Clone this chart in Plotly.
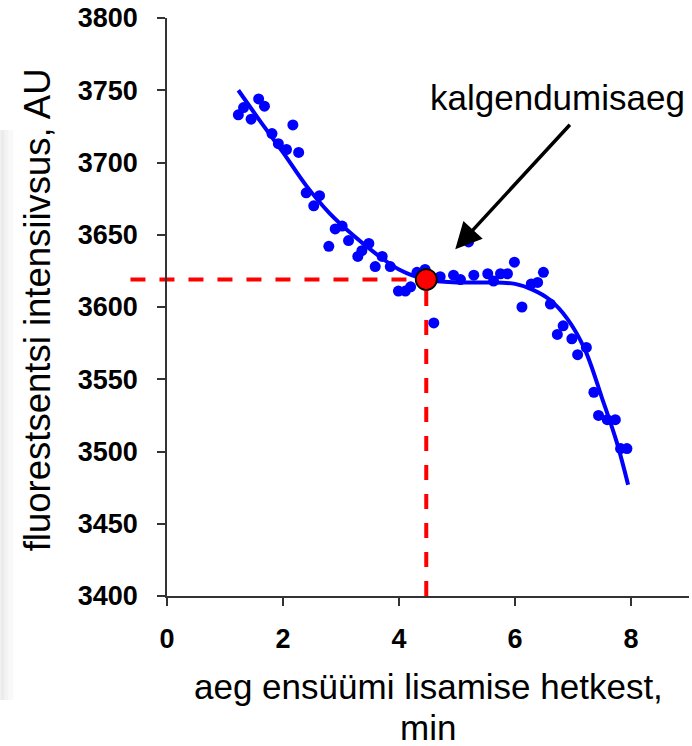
import plotly.graph_objects as go

# ---- data ----
time_min = [1.23, 1.32, 1.45, 1.58, 1.68, 1.81, 1.92, 2.06, 2.17, 2.27,
            2.40, 2.53, 2.63, 2.79, 2.90, 3.02, 3.13, 3.29, 3.36, 3.48,
            3.59, 3.71, 3.85, 3.99, 4.11, 4.20, 4.31, 4.45, 4.60, 4.71,
            4.94, 5.06, 5.20, 5.29, 5.53, 5.63, 5.75, 5.87, 5.99, 6.12,
            6.28, 6.39, 6.49, 6.61, 6.73, 6.83, 6.98, 7.08, 7.23, 7.36,
            7.44, 7.59, 7.73, 7.82, 7.93]
intensity = [3733, 3738, 3730, 3744, 3739, 3720, 3713, 3709, 3726, 3707,
             3679, 3670, 3677, 3642, 3654, 3656, 3646, 3635, 3639, 3644,
             3628, 3635, 3628, 3611, 3611, 3614, 3624, 3626, 3589, 3621,
             3622, 3619, 3645, 3622, 3623, 3618, 3623, 3623, 3631, 3600,
             3616, 3617, 3624, 3602, 3581, 3587, 3578, 3567, 3572, 3541,
             3525, 3522, 3522, 3502, 3502]

fit_x = [1.23, 1.6, 2.0, 2.4, 2.8, 3.2, 3.6, 4.0, 4.47, 5.0, 5.5, 6.0,
         6.3, 6.6, 6.9, 7.2, 7.5, 7.75, 7.95]
fit_y = [3750, 3729, 3707, 3684, 3665, 3650, 3637, 3626, 3619, 3617, 3617,
         3616, 3612, 3605, 3592, 3571, 3537, 3507, 3477]

catch_x = [4.47]
catch_y = [3619]

x_ticks = [0, 2, 4, 6, 8]
y_ticks = [3400, 3450, 3500, 3550, 3600, 3650, 3700, 3750, 3800]
x_range = [0, 9]
y_range = [3400, 3800]
h_line_start = -0.63  # dashed guide starts left of the y axis

x_title = "aeg ensüümi lisamise hetkest,"
x_title2 = "min"
y_title = "fluorestsentsi intensiivsus, AU"
arrow_label = "kalgendumisaeg"
arrow_tip = (4.97, 3640)
label_pos = (6.73, 3745)

RED = "#ff0000"
BLUE = "#0000ff"

fig = go.Figure()

# vertical dashed guide
fig.add_trace(go.Scatter(
    x=[catch_x[0], catch_x[0]], y=[y_range[0], catch_y[0]],
    mode="lines", line=dict(color=RED, width=4, dash="15px,14px"),
    hoverinfo="skip", showlegend=False))

# fitted curve
fig.add_trace(go.Scatter(
    x=fit_x, y=fit_y, mode="lines", line_shape="spline",
    line=dict(color=BLUE, width=4), showlegend=False))

# measured points
fig.add_trace(go.Scatter(
    x=time_min, y=intensity, mode="markers",
    marker=dict(color=BLUE, size=11, line=dict(width=0)),
    showlegend=False))

# clotting time point
fig.add_trace(go.Scatter(
    x=catch_x, y=catch_y, mode="markers",
    marker=dict(color=RED, size=21, line=dict(color="black", width=1.8)),
    showlegend=False))

span = x_range[1] - x_range[0]
fig.add_shape(type="line", xref="x domain", yref="y", layer="below",
              x0=(h_line_start - x_range[0]) / span,
              x1=(catch_x[0] - x_range[0]) / span,
              y0=catch_y[0], y1=catch_y[0],
              line=dict(color=RED, width=4, dash="15px,14px"))

# faint grey band at the far left of the picture
W = 522.0
for p0, p1, op in [(0, 4, 0.20), (4, 8, 0.12), (8, 13, 0.06)]:
    fig.add_shape(type="rect", xref="paper", yref="paper", layer="below",
                  x0=(p0 - 166.7) / W, x1=(p1 - 166.7) / W,
                  y0=(596 - 700) / 578.0, y1=(596 - 130) / 578.0,
                  fillcolor="#9a9a9a", opacity=op, line=dict(width=0))

tickfont = dict(family="Arial, Liberation Sans", size=27, color="black",
                weight="bold")

fig.update_xaxes(range=x_range, tickvals=x_ticks, ticktext=[str(v) for v in x_ticks],
                 showline=True, linecolor="#333333", linewidth=1.5,
                 ticks="outside", ticklen=8, tickwidth=1.5, tickcolor="#333333",
                 showgrid=False, zeroline=False, tickfont=tickfont,
                 ticklabelstandoff=10, automargin=False)
fig.update_yaxes(range=y_range, tickvals=y_ticks, ticktext=[str(v) for v in y_ticks],
                 showline=True, linecolor="#333333", linewidth=1.5,
                 ticks="outside", ticklen=8, tickwidth=1.5, tickcolor="#333333",
                 showgrid=False, zeroline=False, tickfont=tickfont,
                 ticklabelstandoff=14, automargin=False)

fig.add_annotation(x=0.5, y=(596 - 686) / 578.0, xref="paper", yref="paper",
                   text=x_title, showarrow=False, xanchor="center", yanchor="middle",
                   font=dict(family="Arial, Liberation Sans", size=35, color="black"))
fig.add_annotation(x=0.5, y=(596 - 749) / 578.0, xref="paper", yref="paper",
                   text=x_title2, showarrow=False, xanchor="center", yanchor="bottom",
                   font=dict(family="Arial, Liberation Sans", size=35, color="black"))
fig.add_annotation(x=(37 - 166.7) / W, y=(596 - 310) / 578.0, xref="paper", yref="paper",
                   text=y_title, showarrow=False, textangle=-90,
                   xanchor="center", yanchor="middle",
                   font=dict(family="Arial, Liberation Sans", size=36.5, color="black"))

fig.add_annotation(x=arrow_tip[0], y=arrow_tip[1], xref="x", yref="y",
                   text="", showarrow=True, ax=116, ay=-126,
                   arrowhead=2, arrowsize=1.5, arrowwidth=3.5, arrowcolor="black")
fig.add_annotation(x=label_pos[0], y=label_pos[1], xref="x", yref="y",
                   text=arrow_label, showarrow=False, xanchor="center", yanchor="middle",
                   font=dict(family="Liberation Sans, Arial", size=35, color="black"))

fig.update_layout(width=692, height=746,
                  margin=dict(l=167, r=3, t=18, b=150, pad=0),
                  paper_bgcolor="white", plot_bgcolor="rgba(0,0,0,0)",
                  showlegend=False)

fig.write_html("out.html")
